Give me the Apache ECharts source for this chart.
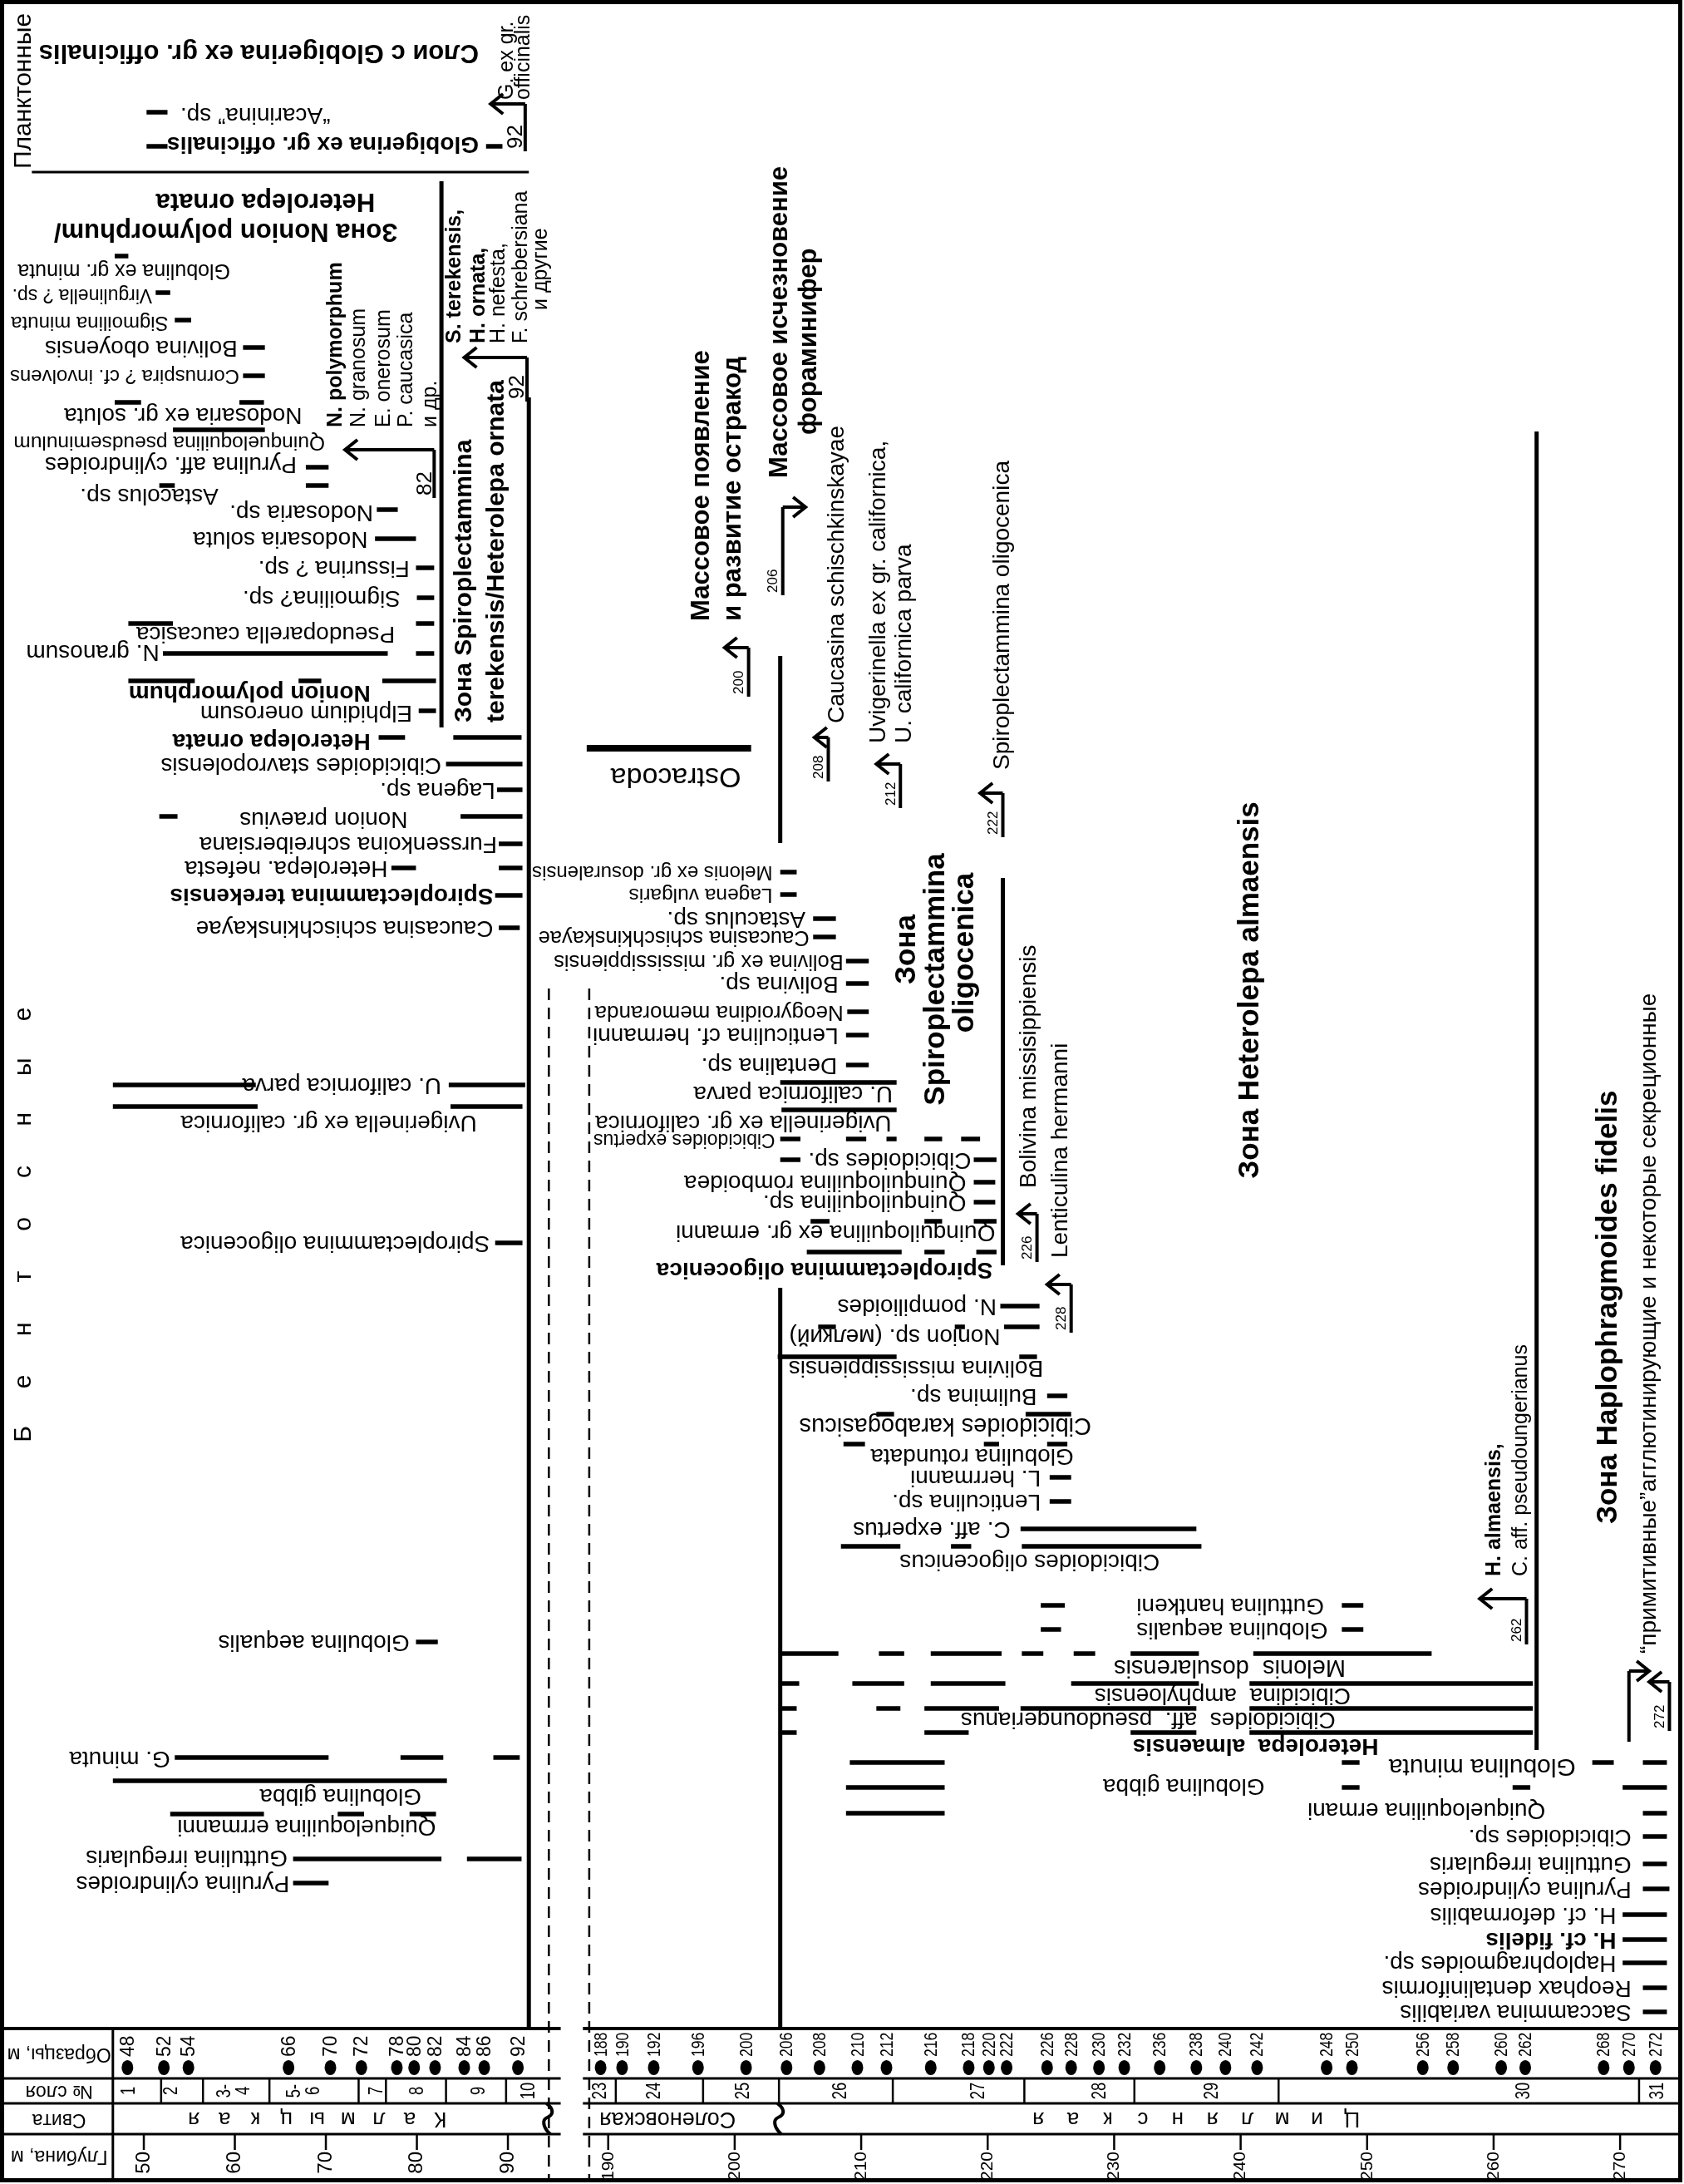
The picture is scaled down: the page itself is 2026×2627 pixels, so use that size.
<!DOCTYPE html>
<html>
<head>
<meta charset="utf-8">
<title>Range chart of foraminifera</title>
<script src="https://cdn.jsdelivr.net/npm/echarts@6.0.0/dist/echarts.min.js"></script>
<style>
html,body{margin:0;padding:0;background:#fff;overflow:hidden;}
#chart{width:2026px;height:2627px;}
</style>
</head>
<body>
<div id="chart"></div>
<script>
// ======================= DATA =======================
// depth axis tick labels (m)
const depthTicksLeft = [50, 60, 70, 80, 90];
const depthTicksRight = [190, 200, 210, 220, 230, 240, 250, 260, 270];

// samples: [sample label, depth position read on the depth axis]
const samplesLeft = [['48',48.2],['52',52.2],['54',54.9],['66',65.9],['70',70.5],['72',73.9],['78',77.8],['80',79.7],['82',82.0],['84',85.2],['86',87.4],['92',91.1]];
const samplesRight = [['188',189.4],['190',191.1],['192',193.6],['196',197.1],['200',200.9],['206',204.1],['208',206.7],['210',209.7],['212',212.0],['216',215.5],['218',218.5],['220',220.1],['222',221.5],['226',224.7],['228',226.6],['230',228.8],['232',230.8],['236',233.6],['238',236.5],['240',238.8],['242',241.3],['248',246.8],['250',248.8],['256',254.4],['258',256.8],['260',260.6],['262',262.5],['268',268.7],['270',270.7],['272',272.8]];

// layers (№ слоя): boundaries (m) and labels [label, depth]
const layerBoundsLeft = [51.9, 56.5, 63.8, 73.6, 76.6, 83.2, 89.8];
const layerLabelsLeft = [['1',48.4],['2',53.1],['3-\n4',60.0],['5-\n6',67.6],['7',75.6],['8',80.1],['9',86.9],['10',92.3]];
const layerBoundsRight = [190.6, 197.5, 203.5, 212.5, 222.9, 231.6, 243.0, 271.5];
const layerLabelsRight = [['23',189.4],['24',193.7],['25',200.7],['26',208.4],['27',219.3],['28',228.9],['29',237.8],['30',262.4],['31',273.0]];

// formations (Свита): [name, depth of first letter, depth of last letter]
const svitaLeft = [['Калмыцкая', 82.6, 55.5]];
const svitaRight = [['Соленовская', 194.7, 194.7], ['Цимлянская', 248.8, 224.0]];
const unconformityLeft = [94.4];
const unconformityRight = [203.5];

// header row names
const headerNames = [['Образцы, м', 247.0], ['№ слоя', 251.5], ['Свита', 254.9], ['Глубина, м', 259.3]];

// taxa: [name, row, [from,to, from,to ...] (m), label end depth, label row]
const planktonTaxa = [
  ['Globigerina ex gr. officinalis', 17.6, [50.3,52.6, 87.6,89.4], 86.8, 17.3],
  ['\u201CAcarinina\u201D sp.', 13.5, [50.3,52.6], 70.5, 13.8]
];
const benthosLeftTaxa = [
  ['Globulina ex gr. minuta', 30.8, [46.8,48.3], 59.5, 32.5],
  ['Virgulinella ? sp.', 35.2, [51.3,52.9], 50.9, 35.4],
  ['Sigmoilina minuta', 38.5, [53.4,55.2], 52.7, 38.8],
  ['Bolivina oboyensis', 41.8, [60.9,63.3], 60.3, 41.8],
  ['Cornuspira ? cf. involvens', 45.2, [60.9,63.3], 60.5, 45.2],
  ['Nodosaria ex gr. soluta', 48.4, [46.8,49.7, 60.5,63.2], 67.4, 49.9],
  ['Quinqueloquilina pseudseminulum', 51.7, [53.2,63.3], 69.9, 53.2],
  ['Pyrulina aff. cylindroides', 56.2, [67.8,70.3], 66.8, 55.8],
  ['Astacolus sp.', 58.4, [51.7,53.4, 67.8,70.3], 58.2, 59.6],
  ['Nodosaria sp.', 61.3, [75.6,77.9], 75.2, 61.6],
  ['Nodosaria soluta', 64.8, [75.4,79.9], 74.6, 64.8],
  ['Fissurina ? sp.', 68.3, [79.9,81.9], 79.2, 68.3],
  ['Sigmoilina? sp.', 71.9, [80.0,81.9], 78.2, 71.9],
  ['Pseudoparella caucasica', 75.0, [48.3,53.2, 79.9,81.9], 77.6, 76.2],
  ['N. granosum', 78.6, [52.1,76.8, 79.9,81.9], 51.7, 78.4],
  ['Nonion polymorphum', 81.9, [48.3,55.6, 67.0,69.5, 76.2,82.1], 74.9, 83.3],
  ['Elphidium onerosum', 85.5, [80.2,82.1], 79.5, 85.7],
  ['Heterolepa ornata', 88.7, [75.8,78.7, 84.0,91.5], 74.9, 89.1],
  ['Cibicidoides stavropolensis', 91.9, [83.2,91.6], 82.7, 92.0],
  ['Lagena sp.', 95.0, [88.8,91.6], 88.6, 95.0],
  ['Nonion praevius', 98.2, [51.7,53.7, 84.8,91.6], 79.0, 98.5],
  ['Furssenkoina schreibersiana', 101.5, [89.0,91.6], 88.8, 101.5],
  ['Heterolepa. nefesta', 104.4, [77.2,79.9, 89.0,91.6], 76.8, 104.4],
  ['Spiroplectammina terekensis', 107.7, [88.6,91.6], 88.4, 107.7],
  ['Caucasina schischkinskayae', 111.6, [89.0,91.3], 88.4, 111.6],
  ['U. californica parva', 130.5, [46.6,62.3, 83.5,91.9], 82.7, 130.5],
  ['Uvigerinella ex gr. californica', 133.1, [46.6,62.5, 83.7,91.6], 86.6, 135.0],
  ['Spiroplectammina oligocenica', 149.5, [88.6,91.6], 88.0, 149.5],
  ['Globulina aequalis', 197.5, [79.9,82.3], 79.2, 197.5],
  ['G. minuta', 211.4, [53.4,70.3, 78.2,82.9, 88.4,91.3], 52.9, 211.5],
  ['Globulina gibba', 214.2, [46.6,83.3], 80.5, 216.0],
  ['Quiqueloquilina errmanni', 218.2, [52.9,63.2, 71.3,74.2, 79.2,82.1], 82.1, 219.7],
  ['Guttulina irregularis', 223.6, [66.4,82.7, 85.5,91.5], 65.8, 223.4],
  ['Pyrulina cylindroides', 226.5, [66.4,70.3], 66.0, 226.5]
];
const benthosRightTaxa = [
  ['Melonis ex gr. dosuralensis', 104.9, [203.6,204.9], 203.0, 104.9],
  ['Lagena vulgaris', 107.6, [203.6,204.9], 203.0, 107.6],
  ['Astaculus sp.', 110.5, [206.2,208.0], 205.6, 110.5],
  ['Caucasina schischkinskayae', 112.7, [206.2,208.0], 205.9, 112.7],
  ['Bolivina ex gr. mississippiensis', 115.6, [208.8,210.6], 208.6, 115.6],
  ['Bolivina sp.', 118.3, [208.8,210.6], 208.2, 118.3],
  ['Neogyroidina memoranda', 121.7, [208.9,210.6], 208.6, 121.7],
  ['Lenticulina cf. hermanni', 124.5, [208.8,210.6], 208.2, 124.5],
  ['Dentalina sp.', 128.1, [208.8,210.6], 208.1, 128.1],
  ['U. californica parva', 130.2, [203.6,212.8], 212.5, 131.5],
  ['Uvigerinella ex gr. californica', 133.5, [203.7,212.8], 212.4, 135.0],
  ['Cibicidoides expertus', 137.0, [203.6,205.2, 208.8,210.4, 212.0,212.8, 215.0,216.4, 217.9,219.4], 203.2, 137.0],
  ['Cibicidoides sp.', 139.5, [203.6,205.2, 218.9,220.7], 218.7, 139.5],
  ['Quinquiloquilina romboidea', 142.2, [218.9,220.6], 218.3, 142.2],
  ['Quinquiloquilina sp.', 144.6, [218.9,220.6], 218.3, 144.6],
  ['Quinquiloquilina ex gr. ermanni', 146.9, [206.0,207.5, 215.0,216.4, 218.9,220.7], 220.6, 148.2],
  ['Spiroplectammina oligocenica', 150.6, [205.7,213.2, 215.0,216.6, 219.1,220.7], 220.4, 152.7],
  ['N. pompilioides', 157.1, [221.0,224.1], 220.7, 157.1],
  ['Nonion sp. (мелкий)', 159.6, [206.6,208.0, 217.4,218.2, 221.3,224.1], 221.0, 160.7],
  ['Bolivina mississippiensis', 163.2, [203.4,212.8, 222.5,223.9], 224.4, 164.5],
  ['Bulimina sp.', 167.9, [224.7,226.3], 223.9, 167.9],
  ['Cibicidoides karabogasicus', 170.1, [211.2,212.6, 223.0,226.6], 228.2, 171.4],
  ['Globulina rotundata', 173.7, [208.6,210.3, 219.7,220.9, 224.7,226.3], 226.8, 175.1],
  ['L. herrmanni', 177.7, [224.9,226.6], 224.2, 177.7],
  ['Lenticulina sp.', 180.6, [224.9,226.6], 224.2, 180.6],
  ['C. aff. expertus', 183.9, [222.6,236.5], 221.8, 183.9],
  ['Cibicidoides oligocenicus', 186.0, [208.4,213.1, 217.1,218.7, 222.7,236.9], 233.6, 187.8],
  ['Guttulina hantkeni', 193.1, [224.2,226.1, 248.0,249.7], 246.6, 193.1],
  ['Globulina aequalis', 196.0, [224.2,225.8, 248.0,249.7], 246.9, 196.0],
  ['Melonis  dosularensis', 198.9, [203.7,208.2, 211.4,213.4, 215.5,221.1, 222.7,224.4, 226.8,228.5, 231.3,236.7, 241.0,255.1], 248.3, 200.5],
  ['Cibicidina  amphyloensis', 202.5, [203.7,205.1, 209.3,213.4, 215.5,221.4, 226.6,236.7, 240.7,263.1], 248.7, 203.9],
  ['Cibicidoides  aff.  pseudoungerianus', 205.5, [203.7,204.9, 211.2,213.1, 215.0,220.9, 222.6,236.5, 240.7,263.1], 247.5, 206.8],
  ['Heterolepa  almaensis', 208.4, [203.7,204.9, 215.0,218.5, 231.3,236.5, 240.7,263.1], 250.9, 210.0],
  ['Globulina minuta', 212.0, [209.1,216.6, 248.0,249.4, 267.8,269.5, 271.8,273.7], 266.5, 212.4],
  ['Globulina gibba', 215.0, [208.8,216.6, 248.0,249.4, 261.5,262.9, 270.2,273.7], 241.9, 214.8],
  ['Quiqueloquilina ermani', 218.1, [208.8,216.6, 271.8,273.7], 264.1, 217.7],
  ['Cibicidoides sp.', 220.9, [271.8,273.7], 270.9, 220.9],
  ['Guttulina irregularis', 224.2, [271.8,273.7], 270.9, 224.2],
  ['Pyrulina cylindroides', 227.2, [271.8,273.9], 270.9, 227.2],
  ['H. cf. deformabilis', 230.3, [270.2,273.7], 269.7, 230.3],
  ['H. cf. fidelis', 233.3, [270.2,273.7], 269.7, 233.3],
  ['Haplophragmoides sp.', 236.1, [270.2,273.7], 269.7, 236.1],
  ['Reophax dentaliniformis', 239.1, [271.8,273.7], 270.9, 239.1],
  ['Saccammina variabilis', 242.0, [271.8,273.7], 270.9, 242.0]
];
// index species (printed in bold)
const boldPlankton = ['Globigerina ex gr. officinalis'];
const boldLeft = ['Nonion polymorphum', 'Heterolepa ornata', 'Spiroplectammina terekensis'];
const boldRight = ['Spiroplectammina oligocenica', 'Heterolepa  almaensis', 'H. cf. fidelis'];

// appearance / disappearance markers:
// [sample, stem depth, row bottom, row top, arrow tip depth, [[text, depth, start row, bold], ...]]
const markersLeft = [
  ['92', 91.9, 18.2, 12.5, 88.1, [['G. ex gr.', 89.9, 12.0, 0], ['officinalis', 91.7, 12.0, 0]]],
  ['92', 92.1, 48.3, 43.0, 85.2, [['S. terekensis,', 84.2, 41.3, 1], ['H. ornata,', 86.8, 41.3, 1], ['H. nefesta,', 89.0, 41.3, 0], ['F. schrebersiana', 91.5, 41.3, 0], ['и другие', 93.7, 37.3, 0]]],
  ['82', 81.9, 59.9, 54.1, 72.1, [['N. polymorphum', 71.1, 51.4, 1], ['N. granosum', 73.7, 51.4, 0], ['E. onerosum', 76.4, 51.4, 0], ['P. caucasica', 78.9, 51.4, 0], ['и др.', 81.5, 51.4, 0]]]
];
const markersRight = [
  ['200', 201.1, 83.8, 77.9, 199.2, [['Массовое появление', 197.4, 74.7, 1], ['и развитие остракод', 199.9, 74.7, 1]]],
  ['206', 203.8, 71.6, 61.0, 205.6, [['Массовое исчезновение', 203.6, 57.5, 1], ['фораминифер', 205.9, 52.3, 1]]],
  ['208', 207.4, 94.0, 88.7, 206.3, [['Caucasina schischkinskayae', 208.1, 87.0, 0]]],
  ['212', 213.1, 97.2, 91.9, 211.2, [['Uvigerinella ex gr. californica,', 211.4, 89.4, 0], ['U. californica parva', 213.4, 89.4, 0]]],
  ['222', 221.2, 100.7, 95.4, 219.4, [['Spiroplectammina oligocenica', 221.2, 92.6, 0]]],
  ['226', 223.9, 151.8, 146.0, 222.4, [['Bolivina missisippiensis', 223.3, 142.9, 0], ['Lenticulina hermanni', 225.8, 151.3, 0]]],
  ['228', 226.6, 160.3, 154.5, 224.7, []],
  ['262', 262.6, 197.8, 192.3, 258.9, [['H. almaensis,', 260.1, 189.6, 1], ['C. aff. pseudoungerianus', 262.2, 189.6, 0]]],
  ['', 270.7, 209.5, 201.0, 272.3, []],
  ['272', 273.9, 208.2, 202.3, 272.3, [['\u201Cпримитивные\u201Dагглютинирующие и некоторые секреционные', 272.3, 198.9, 0]]]
];

// zone range bars: [depth, row top, row bottom]
const zoneBarsLeft = [[82.7, 21.8, 87.5], [92.3, 47.8, 244.0]];
const zoneBarsRight = [[203.6, 78.9, 101.4], [203.6, 154.9, 244.0], [221.2, 105.6, 152.2], [263.4, 51.9, 210.5]];
const hiatusLeft = [[94.5, 118.9, 262.2]];
const hiatusRight = [[188.5, 118.9, 262.2]];
const planktonLimit = [[37.7, 92.3, 20.7]];
const ostracodaRange = [[188.3, 201.3, 90.0]];

// zone names
const zoneNamesLeft = [['Зона Spiroplectammina', 85.2, 86.9], ['terekensis/Heterolepa ornata', 88.8, 86.9]];
const zoneNamesRight = [['Зона', 213.6, 114.2], ['Spiroplectammina', 215.9, 117.8], ['oligocenica', 218.2, 114.6], ['Зона Heterolepa almaensis', 240.8, 119.1]];
const zoneNamesRightStart = [['Зона Haplophragmoides fidelis', 269.1, 183.3]];
const zoneNamesFlip = [['Слои с Globigerina ex gr. officinalis', 86.8, 6.3], ['Зона Nonion polymorphum/', 77.9, 27.8], ['Heterolepa ornata', 75.4, 24.2]];
const groupNames = [['Планктонные', 36.8, 20.3]];
const groupNamesSpread = [['Бентосные', 36.85, 172.5, 122.0]];
const ostracodaName = [['Ostracoda', 200.5, 93.3]];

// ======================= STYLE / LAYOUT =======================
const FF = '"Liberation Sans", Arial, Helvetica, sans-serif';
const R90 = Math.PI / 2, R180 = Math.PI;
const sizeLeft = {'Globulina ex gr. minuta': 25, 'Virgulinella ? sp.': 23, 'Sigmoilina minuta': 24, 'Cornuspira ? cf. involvens': 24, 'Quinqueloquilina pseudseminulum': 24.5};
const sizeRight = {'Melonis ex gr. dosuralensis': 24, 'Lagena vulgaris': 24.5, 'Caucasina schischkinskayae': 25.5, 'Bolivina ex gr. mississippiensis': 25.5, 'Neogyroidina memoranda': 26, 'Cibicidoides expertus': 23, 'Globulina minuta': 30, 'Cibicidoides karabogasicus': 29, 'Melonis  dosularensis': 29};
const markerTextSize = {'92': 25, '82': 25, '262': 25, '200': 31, '206': 31};
const ROW_HDR = 244.0, ROW_SMP = 250.0, ROW_LAY = 253.0, ROW_SVT = 256.7, ROW_BOT = 262.2;

function txt(x, y, s, size, o) {
  o = o || {};
  return { type: 'text', x: x, y: y, rotation: o.rot || 0, scaleX: o.sx || 1, scaleY: o.sy || 1, silent: true,
    style: { text: s, fill: '#000', fontFamily: FF, fontSize: size, fontWeight: o.bold ? 'bold' : 'normal',
      align: o.align || 'left', verticalAlign: o.va || 'middle' } };
}
function ln(x1, y1, x2, y2, w, dash) {
  return { type: 'line', silent: true, shape: { x1: x1, y1: y1, x2: x2, y2: y2 },
    style: { stroke: '#000', lineWidth: w, lineDash: dash || null } };
}
function custom(gi, data, render, z) {
  return { type: 'custom', xAxisIndex: gi, yAxisIndex: gi, clip: false, silent: true, animation: false, z: z || 2,
    data: data, renderItem: render };
}

function taxaSeries(gi, list, boldList, sizeMap) {
  return custom(gi, list.map(t => [t[3], t[4]]), function (params, api) {
    const t = list[params.dataIndex], ch = [];
    for (let k = 0; k < t[2].length; k += 2) {
      const a = api.coord([t[2][k], t[1]]), b = api.coord([t[2][k + 1], t[1]]);
      ch.push(ln(a[0], a[1], b[0], b[1], 5.5));
    }
    const p = api.coord([t[3], t[4]]);
    ch.push(txt(p[0], p[1], t[0], sizeMap[t[0]] || 28, { rot: R180, bold: boldList.indexOf(t[0]) >= 0 }));
    return { type: 'group', children: ch };
  });
}
function markerSeries(gi, list, numSize, defTextSize) {
  return custom(gi, list.map(m => [m[1], m[3]]), function (params, api) {
    const m = list[params.dataIndex];
    const b = api.coord([m[1], m[2]]), t = api.coord([m[1], m[3]]), a = api.coord([m[4], m[3]]);
    const dir = a[0] < t[0] ? -1 : 1;
    const ch = [ln(b[0], b[1], t[0], t[1], 4), ln(t[0], t[1], a[0], a[1], 4),
      { type: 'polyline', silent: true, shape: { points: [[a[0] - dir * 15, a[1] - 12], [a[0], a[1]], [a[0] - dir * 15, a[1] + 12]] },
        style: { stroke: '#000', fill: null, lineWidth: 4 } }];
    if (m[0]) ch.push(txt(b[0] - 11, b[1] - 3, m[0], numSize, { rot: R90 }));
    const ts = markerTextSize[m[0]] || defTextSize;
    m[5].forEach(tt => {
      const p = api.coord([tt[1], tt[2]]);
      ch.push(txt(p[0], p[1], tt[0], ts, { rot: R90, bold: !!tt[3] }));
    });
    return { type: 'group', children: ch };
  });
}
function vSeries(gi, list, w, dash) {
  return custom(gi, list.map(v => [v[0], v[1]]), function (params, api) {
    const v = list[params.dataIndex];
    const a = api.coord([v[0], v[1]]), b = api.coord([v[0], v[2]]);
    return ln(a[0], a[1], b[0], b[1], w, dash);
  });
}
function hSeries(gi, list, w) {
  return custom(gi, list.map(v => [v[0], v[2]]), function (params, api) {
    const v = list[params.dataIndex];
    const a = api.coord([v[0], v[2]]), b = api.coord([v[1], v[2]]);
    return ln(a[0], a[1], b[0], b[1], w);
  });
}
function titleSeries(gi, list, o) {
  return custom(gi, list.map(v => [v[1], v[2]]), function (params, api) {
    const v = list[params.dataIndex];
    const p = api.coord([v[1], v[2]]);
    return txt(p[0], p[1], v[0], o.size, { rot: o.rot, bold: o.bold, align: o.align });
  });
}
function spreadSeries(gi, list, rot, size) {
  // [text, d1, r1, d2, r2] letters spread evenly
  return custom(gi, list.map(v => [v[1], v[2]]), function (params, api) {
    const v = list[params.dataIndex];
    const chars = Array.from(v[0]);
    const a = api.coord([v[1], v[2]]), b = api.coord([v[3], v[4]]);
    const ch = chars.map((c, i) => {
      const f = chars.length > 1 ? i / (chars.length - 1) : 0;
      return txt(a[0] + (b[0] - a[0]) * f, a[1] + (b[1] - a[1]) * f, c, size, { rot: rot, align: 'center' });
    });
    return { type: 'group', children: ch };
  });
}
function sampleSeries(gi, list, size, sx) {
  return custom(gi, list.map(s => [s[1], 248.7]), function (params, api) {
    const s = list[params.dataIndex];
    const p = api.coord([s[1], 248.7]);
    return { type: 'group', children: [
      { type: 'circle', silent: true, x: p[0], y: p[1], scaleY: 1.3, shape: { cx: 0, cy: 0, r: 7 }, style: { fill: '#000' } },
      txt(p[0] + 1, p[1] - 13, s[0], size, { rot: R90, sx: sx })
    ] };
  });
}
function headerSeries(gi, dFrom, dTo, bounds, labels, svitas, uncon, ticks, withNames) {
  return custom(gi, [[dFrom, ROW_HDR]], function (params, api) {
    const C = (d, r) => api.coord([d, r]);
    const ch = [];
    [ROW_HDR, ROW_SMP, ROW_LAY, ROW_SVT].forEach((r, i) => {
      const a = C(dFrom, r), b = C(dTo, r);
      ch.push(ln(a[0], a[1], b[0], b[1], i === 0 ? 4 : 3));
    });
    ticks.forEach(d => { const a = C(d, ROW_SVT); ch.push(ln(a[0], a[1], a[0], a[1] + 19, 2.5)); });
    bounds.forEach(d => { const a = C(d, ROW_SMP), b = C(d, ROW_LAY); ch.push(ln(a[0], a[1], b[0], b[1], 2.5)); });
    labels.forEach(l => { const p = C(l[1], (ROW_SMP + ROW_LAY) / 2); ch.push(txt(p[0], p[1], l[0], 23, { rot: R90, align: 'center', sx: 0.8 })); });
    svitas.forEach(s => {
      const rr = (ROW_LAY + ROW_SVT) / 2;
      if (s[1] === s[2]) { const p = C(s[1], rr); ch.push(txt(p[0], p[1], s[0], 27, { rot: R180, align: 'center' })); }
      else {
        const chars = Array.from(s[0]); const a = C(s[1], rr), b = C(s[2], rr);
        chars.forEach((c, i) => { const f = i / (chars.length - 1); ch.push(txt(a[0] + (b[0] - a[0]) * f, a[1], c, 26, { rot: R180, align: 'center' })); });
      }
    });
    uncon.forEach(d => {
      const a = C(d, ROW_LAY), b = C(d, ROW_SVT);
      const x = a[0], y0 = a[1], h = b[1] - a[1];
      ch.push({ type: 'polyline', silent: true, shape: { smooth: 0.6, points: [[x - 2, y0], [x + 5, y0 + h * 0.3], [x - 5, y0 + h * 0.6], [x + 3, y0 + h]] },
        style: { stroke: '#000', fill: null, lineWidth: 4 } });
    });
    if (withNames) {
      const a = C(46.6, ROW_HDR), b = C(46.6, ROW_BOT);
      ch.push(ln(a[0], a[1], b[0], b[1], 3));
      headerNames.forEach(h => { const p = C(40.7, h[1]); ch.push(txt(p[0], p[1], h[0], 23, { rot: R180, align: 'center' })); });
    }
    return { type: 'group', children: ch };
  });
}

function axisX(gi, min, max, ticks, fs) {
  return { gridIndex: gi, type: 'value', min: min, max: max, position: 'bottom', offset: -55,
    axisLine: { show: false }, splitLine: { show: false }, axisTick: { show: false },
    axisLabel: { show: true, customValues: ticks, rotate: 90, margin: 21, color: '#000', fontSize: fs, fontFamily: FF } };
}
function axisY(gi) { return { gridIndex: gi, type: 'value', min: 0, max: ROW_BOT, inverse: true, show: false }; }

const option = {
  animation: false,
  backgroundColor: '#ffffff',
  grid: [
    { left: 134.7, width: 531.1, top: 0, height: 2622 },
    { left: 708.9, width: 1308.7, top: 0, height: 2622 }
  ],
  xAxis: [axisX(0, 46.5, 95, depthTicksLeft, 24), axisX(1, 188.5, 274.5, depthTicksRight, 21)],
  yAxis: [axisY(0), axisY(1)],
  graphic: [{ type: 'rect', silent: true, z: 100, shape: { x: 2.5, y: 2.5, width: 2019, height: 2620 },
    style: { fill: null, stroke: '#000', lineWidth: 5 } }],
  series: [
    taxaSeries(0, planktonTaxa, boldPlankton, {}),
    taxaSeries(0, benthosLeftTaxa, boldLeft, sizeLeft),
    taxaSeries(1, benthosRightTaxa, boldRight, sizeRight),
    markerSeries(0, markersLeft, 26, 25),
    markerSeries(1, markersRight, 17, 28),
    vSeries(0, zoneBarsLeft, 5),
    vSeries(1, zoneBarsRight, 5),
    vSeries(0, hiatusLeft, 2.5, [14, 9]),
    vSeries(1, hiatusRight, 2.5, [14, 9]),
    hSeries(0, planktonLimit, 3),
    hSeries(1, ostracodaRange, 8),
    titleSeries(0, zoneNamesLeft, { size: 30, rot: R90, bold: true, align: 'left' }),
    titleSeries(1, zoneNamesRight, { size: 35, rot: R90, bold: true, align: 'center' }),
    titleSeries(1, zoneNamesRightStart, { size: 35, rot: R90, bold: true, align: 'left' }),
    titleSeries(0, zoneNamesFlip, { size: 31, rot: R180, bold: true, align: 'left' }),
    titleSeries(0, groupNames, { size: 30, rot: R90, bold: false, align: 'left' }),
    titleSeries(1, ostracodaName, { size: 34, rot: R180, bold: false, align: 'left' }),
    spreadSeries(0, groupNamesSpread.map(g => [g[0], g[1], g[2], g[1], g[3]]), R90, 30),
    sampleSeries(0, samplesLeft, 24, 0.95),
    sampleSeries(1, samplesRight, 22, 0.8),
    headerSeries(0, 34.4, 95.8, layerBoundsLeft, layerLabelsLeft, svitaLeft, unconformityLeft, depthTicksLeft, true),
    headerSeries(1, 188.0, 274.7, layerBoundsRight, layerLabelsRight, svitaRight, unconformityRight, depthTicksRight, false)
  ]
};

const chart = echarts.init(document.getElementById('chart'), null, { renderer: 'canvas' });
chart.setOption(option);
</script>
</body>
</html>
